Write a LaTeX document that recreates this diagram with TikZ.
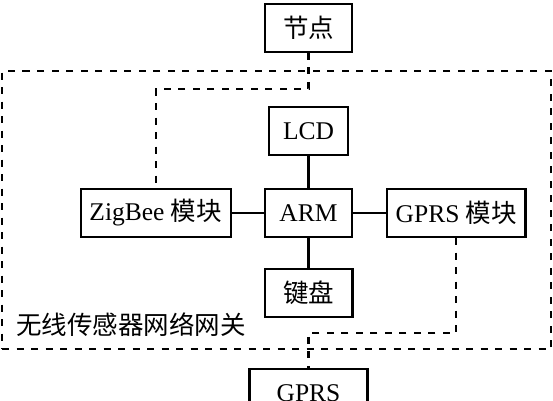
\documentclass[tikz,border=0pt]{standalone}
\usepackage{fontspec}
\setmainfont{Liberation Serif}
\newfontfamily\cjk{Noto Sans CJK SC}
\usepackage{tikz}
\tikzstyle{block} = [draw, rectangle, line width=2.3pt, fill=white,
    minimum height=48pt, inner sep=0pt, font=\fontsize{25.5}{30}\selectfont]
\tikzstyle{group} = [draw, rectangle, line width=2.2pt,
    dash pattern=on 7pt off 7.5pt, inner sep=0pt]
\tikzstyle{wire} = [line width=2.3pt]
\tikzstyle{radio} = [line width=2.2pt, dash pattern=on 7pt off 7.5pt]

\begin{document}
\begin{tikzpicture}[x=1pt, y=-1pt]
    \useasboundingbox (0,0) rectangle (553,400);

    % Gateway frame
    \node [group, minimum width=549pt, minimum height=278pt] (gateway) at (276.5,210.2) {};
    \node [anchor=base west, inner sep=0pt, font=\fontsize{25.5}{30}\selectfont\cjk]
        (gwlabel) at (16,334) {无线传感器网络网关};

    % ARM in the middle
    \node [block, minimum width=87pt] (arm) at (308.5,213) {ARM};

    % LCD and keyboard
    \node [block, above of=arm, minimum width=79.5pt, node distance=81.7pt] (lcd) {LCD};
    \node [block, below of=arm, minimum width=87.7pt, node distance=80pt] (keys) {\cjk 键盘};

    % The two radio modules
    \node [block, left of=arm, minimum width=150pt, node distance=152.8pt] (zigbee) {ZigBee {\cjk 模块}};
    \node [block, right of=arm, minimum width=138.6pt, node distance=147.8pt] (gprsmod) {GPRS {\cjk 模块}};

    % Sensor node on top
    \node [block, above of=lcd, minimum width=87pt, node distance=103.5pt] (sensor) {\cjk 节点};

    % GPRS network below
    \node [block, below of=keys, minimum width=118pt, node distance=100.3pt] (gprs) {GPRS};

    % Wires to the ARM
    \draw [wire] (arm) -- (lcd);
    \draw [wire] (arm) -- (keys);
    \draw [wire] (arm) -- (zigbee);
    \draw [wire] (arm) -- (gprsmod);

    % Wireless links
    \draw [radio] (sensor.south) -- ++(0,36) -| (zigbee.north);
    \draw [radio] (gprsmod.south) -- ++(0,95) -| (gprs.north);

\end{tikzpicture}
\end{document}
